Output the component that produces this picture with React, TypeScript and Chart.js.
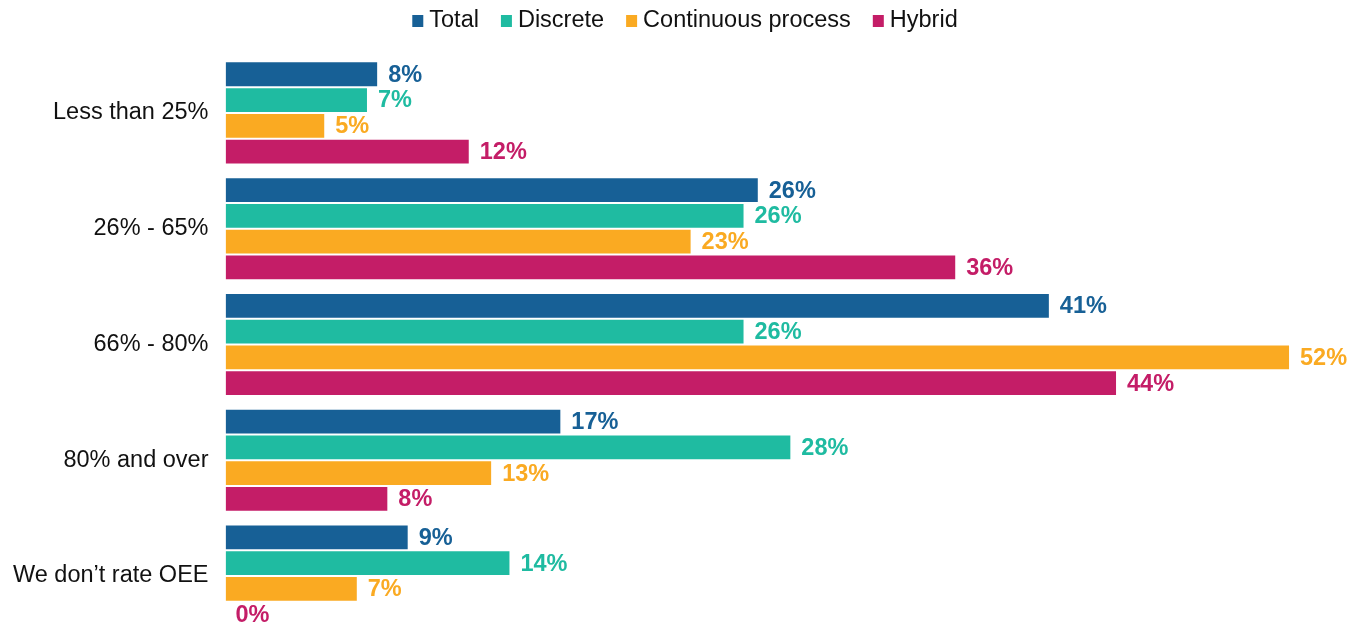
import React, { useEffect, useRef } from "react";
import { Chart, registerables } from "chart.js";

Chart.register(...registerables);

const categories = ["Less than 25%", "26% - 65%", "66% - 80%", "80% and over", "We don\u2019t rate OEE"];
const seriesNames = ["Total", "Discrete", "Continuous process", "Hybrid"];
const totalValues = [7.5, 26.2, 40.5, 16.5, 9.0];
const discreteValues = [7.0, 25.5, 25.5, 27.8, 14.0];
const continuousValues = [4.9, 22.9, 52.3, 13.1, 6.5];
const hybridValues = [12.0, 35.9, 43.8, 8.0, 0];
const seriesColors = ["#176096", "#1FBBA1", "#FAAA22", "#C41D67"];

const FONT = "Arial, 'Liberation Sans', Helvetica, sans-serif";
const TEXT_SIZE = 23.5;

const legendPlugin = {
  id: "customLegend",
  afterDraw(chart: any) {
    const ctx = chart.ctx;
    ctx.save();
    ctx.font = `${TEXT_SIZE}px ${FONT}`;
    const box = 11;
    const gapBoxText = 6;
    const gapItems = 22;
    const items = chart.data.datasets.map((d: any) => ({
      label: d.label,
      color: d.backgroundColor,
      w: box + gapBoxText + ctx.measureText(d.label).width,
    }));
    const total = items.reduce((s: number, it: any) => s + it.w, 0) + gapItems * (items.length - 1);
    let x = chart.width / 2 + 4 - total / 2;
    const yc = 13;
    items.forEach((it: any) => {
      ctx.fillStyle = it.color;
      ctx.fillRect(x, yc - 6, box, 12);
      ctx.fillStyle = "#111";
      ctx.textBaseline = "middle";
      ctx.textAlign = "left";
      ctx.fillText(it.label, x + box + gapBoxText, yc);
      x += it.w + gapItems;
    });
    ctx.restore();
  },
};

const valueLabelPlugin = {
  id: "valueLabels",
  afterDatasetsDraw(chart: any) {
    const ctx = chart.ctx;
    ctx.save();
    ctx.font = `bold ${TEXT_SIZE}px ${FONT}`;
    ctx.textBaseline = "middle";
    ctx.textAlign = "left";
    chart.data.datasets.forEach((ds: any, i: number) => {
      const meta = chart.getDatasetMeta(i);
      meta.data.forEach((bar: any, j: number) => {
        const v = ds.data[j];
        ctx.fillStyle = ds.backgroundColor;
        ctx.fillText(`${Math.round(v)}%`, bar.x + 10, bar.y + 1);
      });
    });
    ctx.restore();
  },
};

export default function App() {
  const ref = useRef<HTMLCanvasElement>(null);
  useEffect(() => {
    document.documentElement.style.overflow = "hidden";
    const data = [totalValues, discreteValues, continuousValues, hybridValues];
    const chart = new Chart(ref.current!, {
      type: "bar",
      data: {
        labels: categories,
        datasets: seriesNames.map((name, i) => ({
          label: name,
          data: data[i],
          backgroundColor: seriesColors[i],
          borderColor: "rgba(255,255,255,0.25)",
          borderWidth: 1,
          barPercentage: 1,
          categoryPercentage: 0.89,
        })),
      },
      options: {
        indexAxis: "y",
        animation: false,
        responsive: true,
        maintainAspectRatio: false,
        layout: { padding: { top: 47, right: 9, bottom: 0, left: 0 } },
        plugins: {
          legend: { display: false },
          tooltip: { enabled: false },
        },
        scales: {
          x: { display: false, min: 0, max: 55 },
          y: {
            grid: { display: false, drawTicks: false },
            border: { display: false },
            ticks: {
              color: "#111",
              font: { family: FONT, size: TEXT_SIZE },
              padding: 17,
            },
            afterFit: (s: any) => {
              s.width -= 12;
            },
          },
        },
      },
      plugins: [legendPlugin, valueLabelPlugin],
    });
    return () => chart.destroy();
  }, []);
  return (
    <div style={{ position: "relative", width: "100%", height: 657 }}>
      <canvas ref={ref} />
    </div>
  );
}
